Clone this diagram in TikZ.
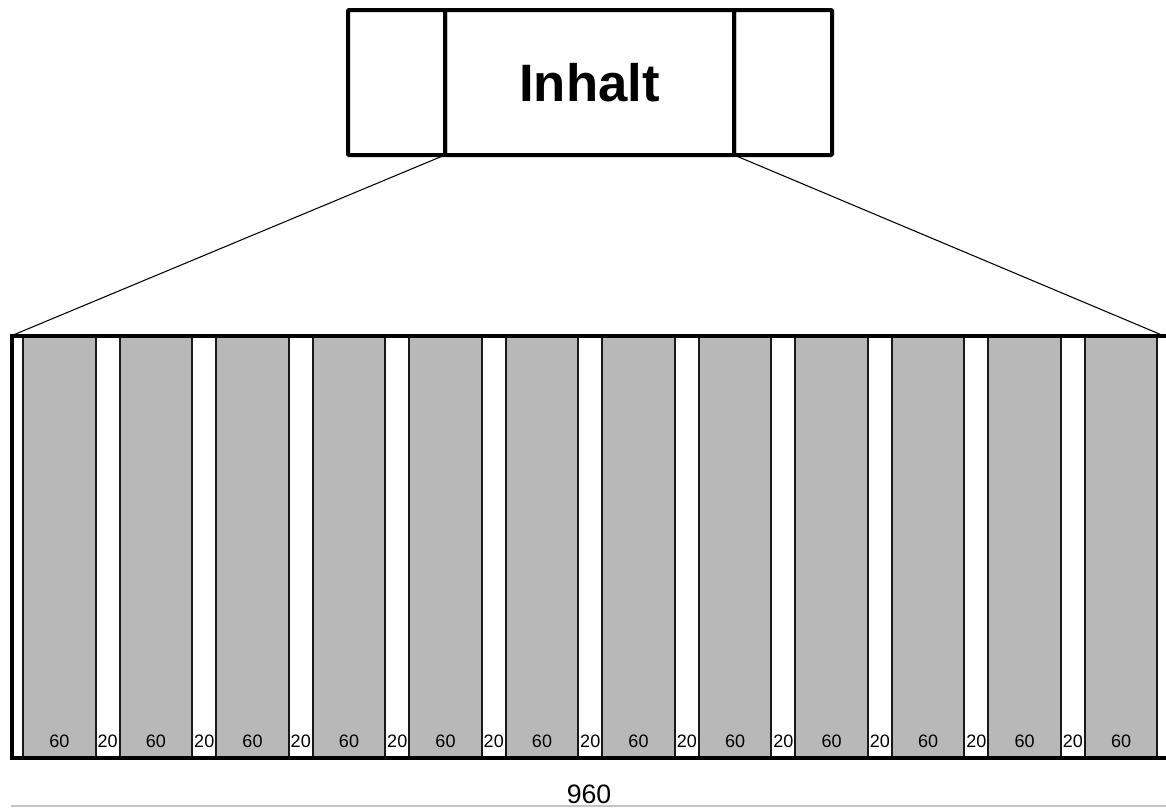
\documentclass[tikz,border=0pt]{standalone}
\usepackage{fontspec}
\setmainfont{Liberation Sans}
\definecolor{colgrey}{HTML}{B8B8B8}
\definecolor{dimgrey}{HTML}{C4C4C4}
\begin{document}
\begin{tikzpicture}[x=0.75pt,y=-0.75pt,
  cell/.style={draw=black, line width=3pt, outer sep=0pt, inner sep=0pt,
    minimum height=108.75pt, rounded corners=0.8pt},
  column/.style={draw=black!90, fill=colgrey, line width=1.3pt, outer sep=0pt,
    inner sep=0pt, minimum width=54.3pt, minimum height=316.5pt, anchor=north west},
  num/.style={font=\fontsize{13.5}{14}\selectfont, inner sep=0pt},
  frame/.style={draw=black, line width=3pt},
  fan/.style={draw=black, line width=0.8pt},
]
\useasboundingbox (0,0) rectangle (1166,807);

% content block with side margins
\node[cell, minimum width=216.75pt, font=\fontsize{39.5}{40}\selectfont\bfseries]
  (inhalt) at (589.5,82.5) {Inhalt};
\node[cell, minimum width=72.75pt, anchor=east] (lcell) at (inhalt.west) {};
\node[cell, minimum width=73.5pt, anchor=west] (rcell) at (inhalt.east) {};

% grid frame corners
\coordinate (fr-tl) at (12,335.5);
\coordinate (fr-tr) at (1170,335.5);
\coordinate (fr-bl) at (12,757.5);
\coordinate (fr-br) at (1170,757.5);
\coordinate (fan-r) at (1163,335.5);

% twelve 60-unit columns with 20-unit gutters
\foreach \i in {0,...,11} {
  \node[column] (c\i) at ({23.3+\i*96.5},335.5) {};
  \node[num] (l\i) at ([yshift=12.4pt]c\i.south) {60};
}
\foreach \i [evaluate=\i as \j using int(\i+1)] in {0,...,10} {
  \path (c\i.south east) -- (c\j.south west)
    node[num, midway, yshift=12.4pt] (g\i) {20};
}

% outer frame
\draw[frame] (fr-tr) -- (fr-tl) -- (fr-bl) -- (fr-br);

% fan lines from content block to grid
\draw[fan] (lcell.south east) -- (fr-tl);
\draw[fan] (rcell.south west) -- (fan-r);

% total width
\coordinate (dim-l) at (11,806);
\coordinate (dim-r) at (1166,806);
\draw[dimgrey, line width=0.9pt] (dim-l) -- (dim-r);
\node[font=\fontsize{20}{20}\selectfont, inner sep=0pt, anchor=base] (total) at (589,803) {960};
\end{tikzpicture}
\end{document}
